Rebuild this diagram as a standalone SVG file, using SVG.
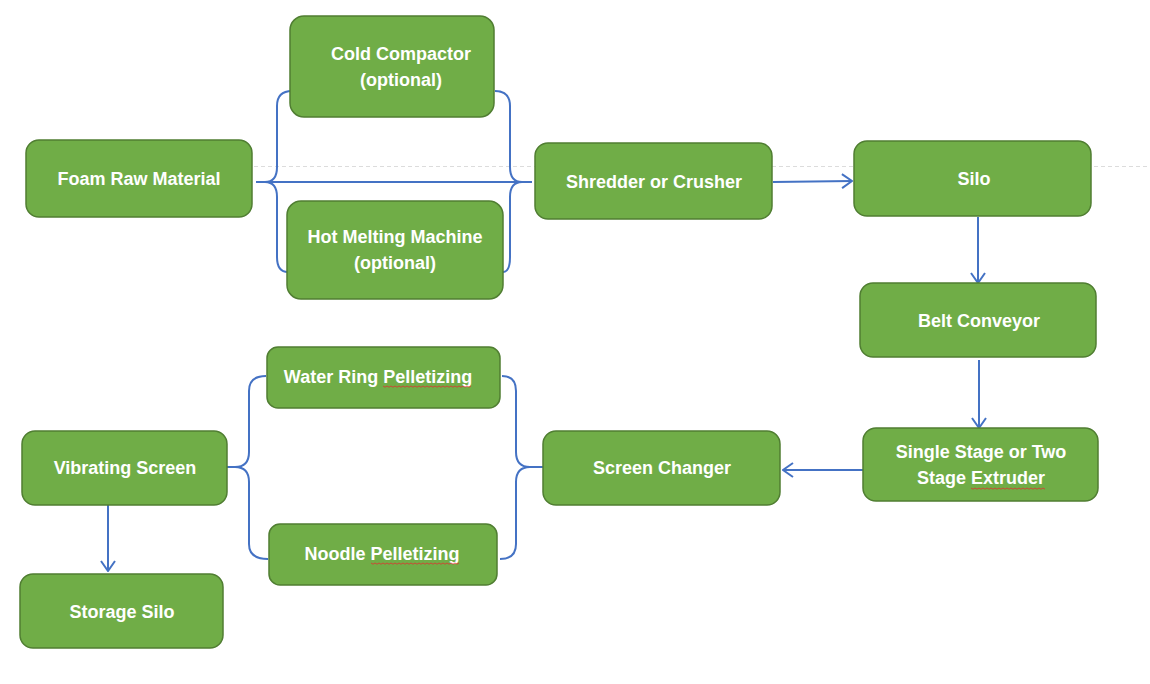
<svg xmlns="http://www.w3.org/2000/svg" width="1150" height="684" viewBox="0 0 1150 684">
<defs>
<style>
.node rect{fill:#70AD47;stroke:#507E32;stroke-width:1.5}
.node text{fill:#fff;font-family:"Liberation Sans",Arial,sans-serif;font-weight:bold;font-size:18px;text-anchor:middle;dominant-baseline:central}
.conn{fill:none;stroke:#4472C4;stroke-width:2}
.squig{fill:none;stroke:#E03030;stroke-width:0.8}
</style>
<marker id="arr" viewBox="0 0 12 16" refX="11" refY="8" markerWidth="12" markerHeight="16" markerUnits="userSpaceOnUse" orient="auto">
<path d="M1,1 L11,8 L1,15" fill="none" stroke="#4472C4" stroke-width="2"/>
</marker>
</defs>
<rect width="1150" height="684" fill="#fff"/>
<line x1="254" y1="166.5" x2="1150" y2="166.5" stroke="#dcdcdc" stroke-width="1" stroke-dasharray="4 3"/>

<g id="connectors">
<path class="conn" d="M256,182 L532,182"/>
<path class="conn" d="M292,91 Q277,91 277,106 L277,167 Q277,182 265,182 Q277,182 277,197 L277,257 Q277,272 288,272"/>
<path class="conn" d="M495,91 Q510,91 510,106 L510,167 Q510,182 522,182 Q510,182 510,197 L510,257 Q510,272 503,272"/>
<path class="conn" d="M773,182 L852,181" marker-end="url(#arr)"/>
<path class="conn" d="M978,217 L978,283" marker-end="url(#arr)"/>
<path class="conn" d="M979,360 L979,428" marker-end="url(#arr)"/>
<path class="conn" d="M863,470 L783,470" marker-end="url(#arr)"/>
<path class="conn" d="M502,376 Q516,376 516,391 L516,452 Q516,467 530,467 L543,467 M530,467 Q516,467 516,482 L516,544 Q516,559 500,559"/>
<path class="conn" d="M227,467 L235,467 Q249,467 249,452 L249,391 Q249,376 266,376 M235,467 Q249,467 249,482 L249,544 Q249,559 268,559"/>
<path class="conn" d="M108,505 L108,571" marker-end="url(#arr)"/>
</g>

<g id="n-foam" class="node"><rect x="26" y="140" width="226" height="77" rx="13"/><text x="139" y="179">Foam Raw Material</text></g>
<g id="n-cold" class="node"><rect x="290" y="16" width="204" height="101" rx="14"/><text x="401" y="54">Cold Compactor</text><text x="401" y="80">(optional)</text></g>
<g id="n-hot" class="node"><rect x="287" y="201" width="216" height="98" rx="14"/><text x="395" y="237">Hot Melting Machine</text><text x="395" y="263">(optional)</text></g>
<g id="n-shred" class="node"><rect x="535" y="143" width="237" height="76" rx="13"/><text x="654" y="182">Shredder or Crusher</text></g>
<g id="n-silo" class="node"><rect x="854" y="141" width="237" height="75" rx="13"/><text x="974" y="179">Silo</text></g>
<g id="n-belt" class="node"><rect x="860" y="283" width="236" height="74" rx="13"/><text x="979" y="321">Belt Conveyor</text></g>
<g id="n-extruder" class="node"><rect x="863" y="428" width="235" height="73" rx="13"/><text x="981" y="452">Single Stage or Two</text><text x="981" y="478">Stage Extruder</text></g>
<g id="n-screen" class="node"><rect x="543" y="431" width="237" height="74" rx="13"/><text x="662" y="468">Screen Changer</text></g>
<g id="n-water" class="node"><rect x="267" y="347" width="233" height="61" rx="11"/><text x="378" y="377">Water Ring Pelletizing</text></g>
<g id="n-noodle" class="node"><rect x="269" y="524" width="228" height="61" rx="11"/><text x="382" y="554">Noodle Pelletizing</text></g>
<g id="n-vibr" class="node"><rect x="22" y="431" width="205" height="74" rx="13"/><text x="125" y="468">Vibrating Screen</text></g>
<g id="n-storage" class="node"><rect x="20" y="574" width="203" height="74" rx="13"/><text x="122" y="612">Storage Silo</text></g>

<path class="squig" d="M383,386 l2,1.2 l2,-1.2 l2,1.2 l2,-1.2 l2,1.2 l2,-1.2 l2,1.2 l2,-1.2 l2,1.2 l2,-1.2 l2,1.2 l2,-1.2 l2,1.2 l2,-1.2 l2,1.2 l2,-1.2 l2,1.2 l2,-1.2 l2,1.2 l2,-1.2 l2,1.2 l2,-1.2 l2,1.2 l2,-1.2 l2,1.2 l2,-1.2 l2,1.2 l2,-1.2 l2,1.2 l2,-1.2 l2,1.2 l2,-1.2 l2,1.2 l2,-1.2 l2,1.2 l2,-1.2 l2,1.2 l2,-1.2 l2,1.2 l2,-1.2 l2,1.2 l2,-1.2 l2,1.2 l2,-1.2"/>
<path class="squig" d="M371,563 l2,1.2 l2,-1.2 l2,1.2 l2,-1.2 l2,1.2 l2,-1.2 l2,1.2 l2,-1.2 l2,1.2 l2,-1.2 l2,1.2 l2,-1.2 l2,1.2 l2,-1.2 l2,1.2 l2,-1.2 l2,1.2 l2,-1.2 l2,1.2 l2,-1.2 l2,1.2 l2,-1.2 l2,1.2 l2,-1.2 l2,1.2 l2,-1.2 l2,1.2 l2,-1.2 l2,1.2 l2,-1.2 l2,1.2 l2,-1.2 l2,1.2 l2,-1.2 l2,1.2 l2,-1.2 l2,1.2 l2,-1.2 l2,1.2 l2,-1.2 l2,1.2 l2,-1.2 l2,1.2 l2,-1.2"/>
<path class="squig" d="M971,488 l2,1.2 l2,-1.2 l2,1.2 l2,-1.2 l2,1.2 l2,-1.2 l2,1.2 l2,-1.2 l2,1.2 l2,-1.2 l2,1.2 l2,-1.2 l2,1.2 l2,-1.2 l2,1.2 l2,-1.2 l2,1.2 l2,-1.2 l2,1.2 l2,-1.2 l2,1.2 l2,-1.2 l2,1.2 l2,-1.2 l2,1.2 l2,-1.2 l2,1.2 l2,-1.2 l2,1.2 l2,-1.2 l2,1.2 l2,-1.2 l2,1.2 l2,-1.2 l2,1.2 l2,-1.2 l2,1.2"/>
</svg>
